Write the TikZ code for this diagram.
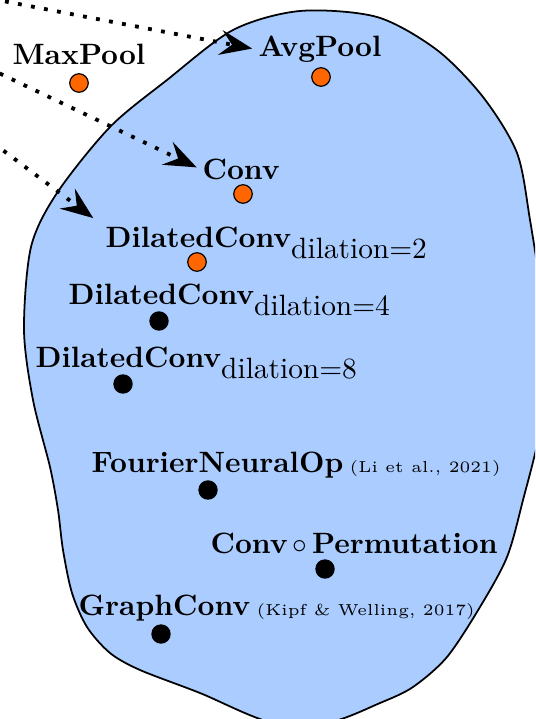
\documentclass[tikz,border=0pt]{standalone}
\usetikzlibrary{positioning,arrows.meta}
\definecolor{blobblue}{RGB}{170,204,255}
\definecolor{dotorange}{RGB}{255,102,0}
\newcommand{\refcite}[1]{\hspace{2.2pt}{\normalfont\fontsize{5.4}{6}\selectfont #1}}
\newcommand{\dilsub}[1]{\raisebox{-3.5pt}{\normalfont dilation=#1}}

\begin{document}
\begin{tikzpicture}[x=0.34pt, y=-0.34pt,
    lbl/.style={anchor=base west, inner sep=0pt, font=\bfseries},
    odot/.style={circle, draw, line width=0.4pt, fill=dotorange, minimum size=6.3pt, inner sep=0pt},
    bdot/.style={circle, fill=black, minimum size=6.6pt, inner sep=0pt},
    pick/.style={line width=1.3pt, dash pattern=on 1.3pt off 3.2pt, -{Stealth[length=11pt,width=8.5pt,inset=4pt]}}]
    \useasboundingbox (0,0) rectangle (535,719);
    \clip (0,0) rectangle (535,719);

    % Search space
    \draw[fill=blobblue, line width=0.6pt] plot[smooth cycle, tension=0.5] coordinates {
        (300,11) (377,17) (437,50) (483,97) (517,153) (530,220) (542,300) (545,360)
        (540,430) (523,500) (507,557) (480,607) (447,657) (413,687) (380,703) (330,722)
        (270,722) (200,693) (140,670) (110,653) (87,627) (72,593) (63,550) (58,510)
        (50,467) (33,400) (24,330) (31,247) (57,193) (110,127) (167,80) (233,30)};

    % Define node positions (top to bottom)
    \node[odot] (MaxPool) at (79,83) {};
    \node[odot] (AvgPool) at (321,77) {};
    \node[odot] (Conv) at (243,194) {};
    \node[odot] (Dil2) at (197,262) {};
    \node[bdot] (Dil4) at (159,321) {};
    \node[bdot] (Dil8) at (123,384) {};
    \node[bdot] (FNO) at (208,490) {};
    \node[bdot] (ConvPerm) at (325,569) {};
    \node[bdot] (GraphConv) at (161,634) {};

    % Labels
    \node[lbl] (MaxPoolL) at (12,65) {MaxPool};
    \node[lbl] (AvgPoolL) at (258,57) {AvgPool};
    \node[lbl] (ConvL) at (202,180) {Conv};
    \node[lbl] (Dil2L) at (105,248) {DilatedConv\dilsub{2}};
    \node[lbl] (Dil4L) at (68,305) {DilatedConv\dilsub{4}};
    \node[lbl] (Dil8L) at (35,368) {DilatedConv\dilsub{8}};
    \node[lbl] (FNOL) at (91,472) {FourierNeuralOp\refcite{(Li et al., 2021)}};
    \node[lbl] (ConvPermL) at (210,553) {Conv\,$\circ$\,Permutation};
    \node[lbl] (GraphConvL) at (78,615) {GraphConv\refcite{(Kipf \& Welling, 2017)}};

    % Draw edges
    \coordinate (SrcA) at (-60,-11);
    \coordinate (SrcB) at (-60,45);
    \coordinate (SrcC) at (-60,103);
    \draw[pick, shorten >=2pt] (SrcA) -- (AvgPoolL.west);
    \draw[pick, shorten >=2pt] (SrcB) -- (ConvL.west);
    \draw[pick, shorten >=5pt] (SrcC) -- (Dil2L.north west);
\end{tikzpicture}
\end{document}
